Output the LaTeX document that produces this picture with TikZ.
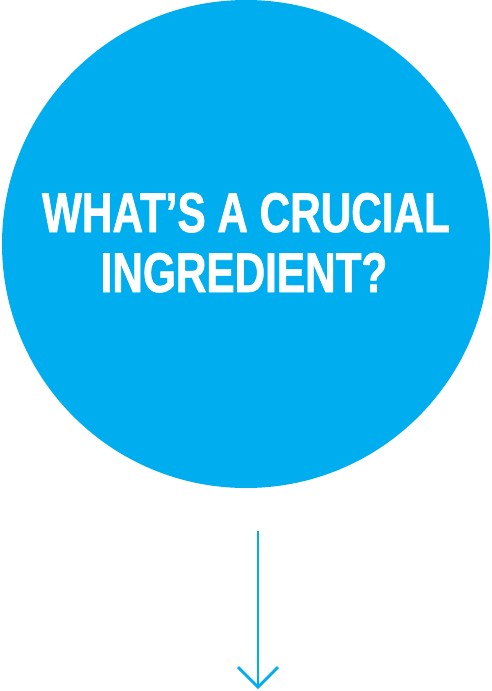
\documentclass[tikz,border=0pt]{standalone}
\usepackage{fontspec}
\setmainfont{Liberation Sans}
\newfontfamily\qfont{Liberation Sans}[UprightFont=*-Bold, FakeStretch=0.755, FakeBold=1.2]
\usetikzlibrary{arrows.meta}
\definecolor{qblue}{HTML}{00AEEF}
\tikzset{
  bubble/.style={circle, fill=qblue, draw=none, minimum size=488pt, inner sep=0pt},
  qtext/.style={text=white, font=\fontsize{56}{60}\selectfont\qfont, inner sep=0pt, anchor=base},
  flow/.style={draw=qblue, line width=2.8pt, -{Straight Barb[length=20pt,width=40pt,line width=2.8pt]}}
}
\begin{document}
\begin{tikzpicture}[x=1pt,y=-1pt]
\useasboundingbox (0,0) rectangle (492,691);
\node[bubble] (q) at (246,244) {};
\node[qtext] (l1) at (246,232) {WHAT’S A CRUCIAL};
\node[qtext] (l2) at (244,292) {INGREDIENT?};
\coordinate (a) at (258,531);
\coordinate (b) at (258,689);
\draw[flow] (a) -- (b);
\end{tikzpicture}
\end{document}
